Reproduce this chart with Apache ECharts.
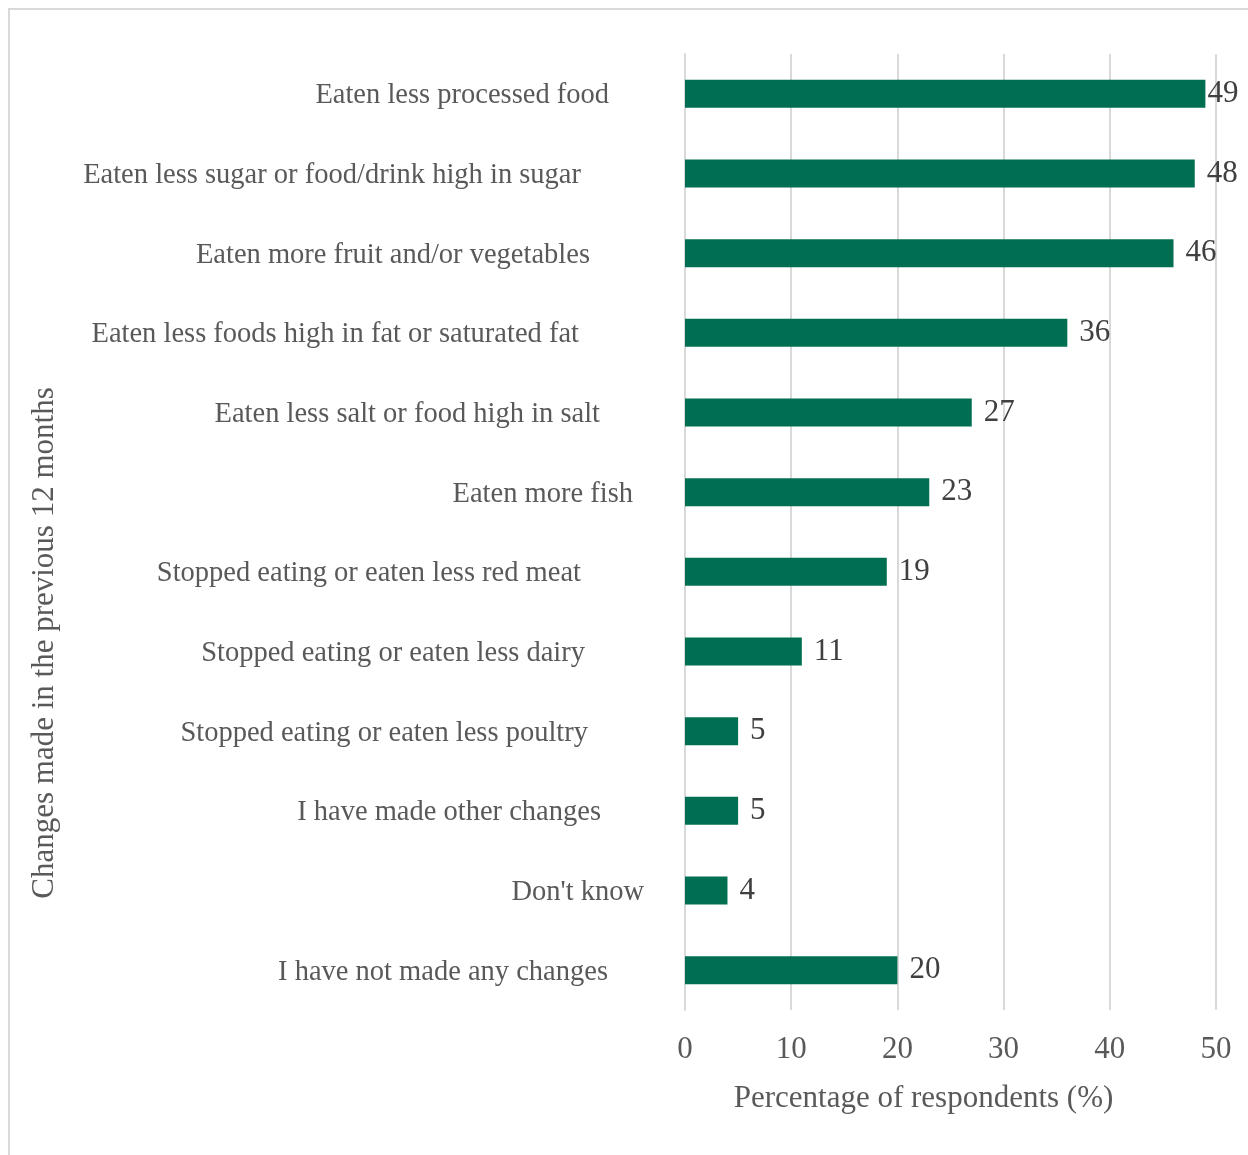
<!DOCTYPE html>
<html>
<head>
<meta charset="utf-8">
<script src="https://cdn.jsdelivr.net/npm/echarts@6/dist/echarts.min.js"></script>
<style>
  html, body { margin: 0; padding: 0; background: #fff; }
  #chart { width: 1248px; height: 1155px; }
</style>
</head>
<body>
<div id="chart"></div>
<script>
const categories = [
  'Eaten less processed food',
  'Eaten less sugar or food/drink high in sugar',
  'Eaten more fruit and/or vegetables',
  'Eaten less foods high in fat or saturated fat',
  'Eaten less salt or food high in salt',
  'Eaten more fish',
  'Stopped eating or eaten less red meat',
  'Stopped eating or eaten less dairy',
  'Stopped eating or eaten less poultry',
  'I have made other changes',
  "Don't know",
  'I have not made any changes'
]
const values = [49, 48, 46, 36, 27, 23, 19, 11, 5, 5, 4, 20]
const xTicks = [0, 10, 20, 30, 40, 50]

// right gap of each label from the axis, as in the original layout
const labelGaps = [76, 104, 95, 106, 85, 52, 104, 100, 97, 84, 41, 77]

const rich = {}
labelGaps.forEach((g, i) => {
  rich['c' + i] = {
    fontFamily: 'Liberation Serif',
    fontSize: 28.5,
    color: '#595959',
    padding: [4, g, 0, 0]
  }
})

// the largest value's label sits tight against its bar so it fits the frame
const maxVal = Math.max(...values)
const barData = values.map(v => v === maxVal ? { value: v, label: { distance: 2 } } : v)

const chart = echarts.init(document.getElementById('chart'))

chart.setOption({
  backgroundColor: '#fff',
  animation: false,
  graphic: [
    {
      type: 'polyline',
      shape: { points: [[9, 1155], [9, 9], [1248, 9]] },
      style: { stroke: '#d9d9d9', lineWidth: 2, fill: null }
    },
    {
      type: 'text',
      x: 45,
      y: 643,
      rotation: Math.PI / 2,
      style: {
        text: 'Changes made in the previous 12 months',
        fontFamily: 'Liberation Serif',
        fontSize: 31,
        fill: '#595959',
        align: 'center',
        verticalAlign: 'middle'
      }
    }
  ],
  grid: { left: 685, right: 32, top: 54, bottom: 145 },
  xAxis: {
    type: 'value',
    min: 0,
    max: 50,
    interval: 10,
    axisLine: { show: false },
    axisTick: { show: false },
    splitLine: { lineStyle: { color: '#d9d9d9', width: 2 } },
    axisLabel: {
      fontFamily: 'Liberation Serif',
      fontSize: 31,
      color: '#595959',
      margin: 24,
      formatter: v => xTicks.includes(v) ? String(v) : ''
    },
    name: 'Percentage of respondents (%)',
    nameLocation: 'middle',
    nameGap: 73,
    nameTextStyle: {
      fontFamily: 'Liberation Serif',
      fontSize: 31,
      color: '#595959',
      padding: [0, 54, 0, 0]
    }
  },
  yAxis: {
    type: 'category',
    inverse: true,
    data: categories,
    axisLine: { show: true, lineStyle: { color: '#d9d9d9', width: 2 } },
    axisTick: { show: false },
    axisLabel: {
      margin: 0,
      formatter: (v, i) => '{c' + i + '|' + v + '}',
      rich: rich
    }
  },
  series: [{
    type: 'bar',
    data: barData,
    barWidth: 28,
    itemStyle: { color: '#006f51' },
    label: {
      show: true,
      position: 'right',
      distance: 12,
      padding: [5, 0, 0, 0],
      fontFamily: 'Liberation Serif',
      fontSize: 31,
      color: '#404040'
    }
  }]
})
</script>
</body>
</html>
